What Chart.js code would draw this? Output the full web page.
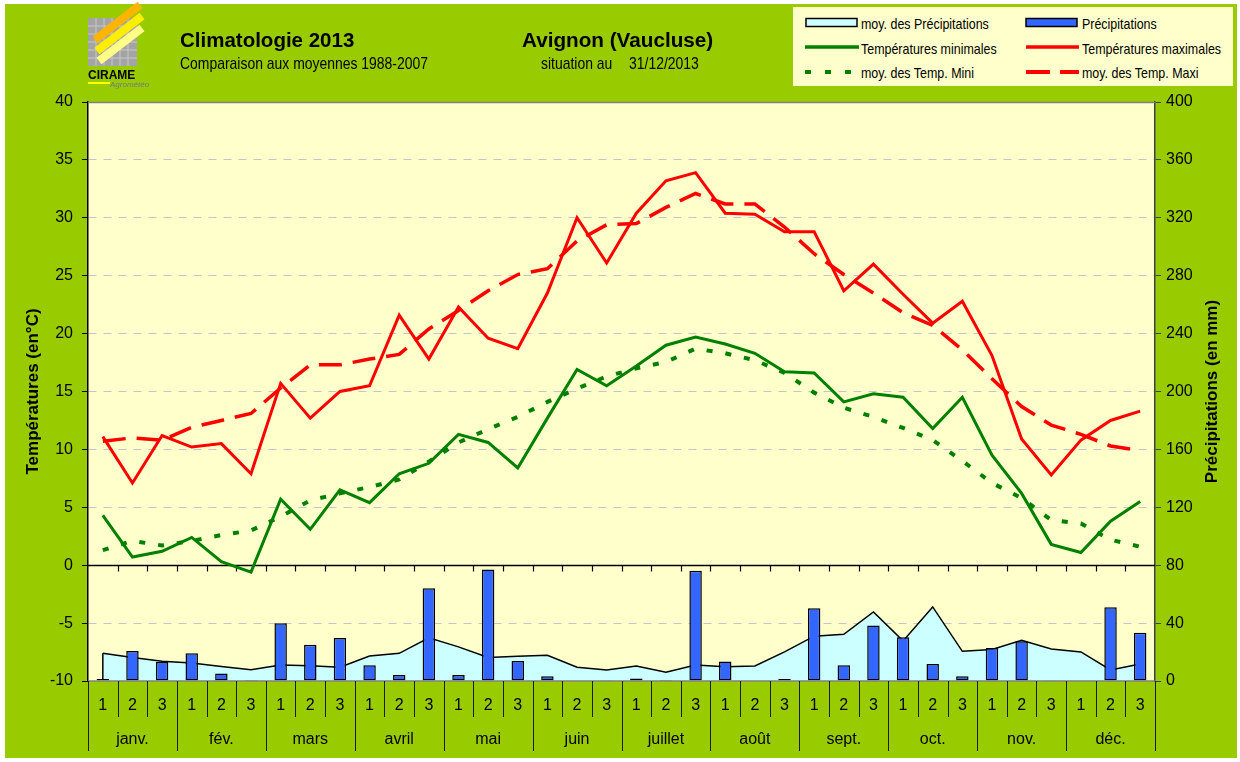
<!DOCTYPE html>
<html>
<head>
<meta charset="utf-8">
<script src="https://cdn.jsdelivr.net/npm/chart.js@4.4.1/dist/chart.umd.min.js"></script>
<style>
  body { margin: 0; background: #fff; font-family: 'Liberation Sans', Arial, sans-serif; }
  #bg { position: absolute; left: 5px; top: 4px; width: 1232px; height: 754px; background: #99CC00; }
  #c { position: absolute; left: 0; top: 0; }
  .t { position: absolute; white-space: nowrap; line-height: 1; color: #000; }
  .narrow { transform: scaleX(0.82); transform-origin: 0 50%; }
  #legend { position: absolute; left: 793px; top: 7px; width: 440px; height: 79px; background: #FFFFCC; }
  .lg { position: absolute; font-size: 15px; line-height: 1; white-space: nowrap; transform: scaleX(0.83); transform-origin: 0 50%; }
  .sym { position: absolute; }
</style>
</head>
<body>
<div id="bg"></div>
<canvas id="c" width="1240" height="762"></canvas>

<svg style="position:absolute;left:84px;top:2px" width="82" height="90">
  <rect x="4" y="16" width="49" height="48" fill="#a4a4a4"/>
  <g stroke="#c8c8c8" stroke-width="1">
    <line x1="4" y1="24" x2="53" y2="24"/><line x1="4" y1="32" x2="53" y2="32"/>
    <line x1="4" y1="40" x2="53" y2="40"/><line x1="4" y1="48" x2="53" y2="48"/>
    <line x1="4" y1="56" x2="53" y2="56"/>
    <line x1="12" y1="16" x2="12" y2="64"/><line x1="20" y1="16" x2="20" y2="64"/>
    <line x1="28" y1="16" x2="28" y2="64"/><line x1="36" y1="16" x2="36" y2="64"/>
    <line x1="44" y1="16" x2="44" y2="64"/>
  </g>
  <line x1="11" y1="38" x2="56" y2="3" stroke="#ffb400" stroke-width="8"/>
  <line x1="13" y1="49" x2="58" y2="14" stroke="#ffee00" stroke-width="8"/>
  <line x1="15" y1="59" x2="58" y2="26" stroke="#ffff88" stroke-width="8"/>
  <text x="4" y="77" font-family="Liberation Sans, Arial" font-weight="bold" font-size="12" fill="#000">CIRAME</text>
  <line x1="4" y1="81" x2="26" y2="81" stroke="#ffff00" stroke-width="2"/>
  <text x="26" y="85" font-family="Liberation Sans, Arial" font-style="italic" font-size="8" fill="#777">Agrométéo</text>
</svg>

<div class="t" style="left:180px;top:30px;font-weight:bold;font-size:20.5px;">Climatologie 2013</div>
<div class="t narrow" style="left:180px;top:55px;font-size:17px;">Comparaison aux moyennes 1988-2007</div>
<div class="t" style="left:522px;top:30px;font-weight:bold;font-size:20.7px;">Avignon (Vaucluse)</div>
<div class="t narrow" style="left:541px;top:55px;font-size:17px;">situation au</div>
<div class="t narrow" style="left:629px;top:55px;font-size:17px;">31/12/2013</div>

<div id="legend"></div>
<div id="legend-items">
  <svg class="sym" style="left:805px;top:17px" width="54" height="12"><rect x="1" y="1.5" width="51" height="8" fill="#CCFFFF" stroke="#000" stroke-width="1.5"/></svg>
  <div class="lg" style="left:861px;top:16px;">moy. des Précipitations</div>
  <svg class="sym" style="left:1025px;top:17px" width="54" height="12"><rect x="1" y="1.5" width="51" height="8" fill="#3366FF" stroke="#000" stroke-width="1.5"/></svg>
  <div class="lg" style="left:1082px;top:16px;">Précipitations</div>

  <svg class="sym" style="left:805px;top:41px" width="56" height="12"><line x1="0" y1="6" x2="54" y2="6" stroke="#008000" stroke-width="3.5"/></svg>
  <div class="lg" style="left:861px;top:41px;">Températures minimales</div>
  <svg class="sym" style="left:1026px;top:41px" width="56" height="12"><line x1="0" y1="6" x2="53" y2="6" stroke="#FF0000" stroke-width="3.5"/></svg>
  <div class="lg" style="left:1082px;top:41px;">Températures maximales</div>

  <svg class="sym" style="left:805px;top:66px" width="56" height="12"><line x1="0" y1="6" x2="50" y2="6" stroke="#008000" stroke-width="4" stroke-dasharray="6 14"/></svg>
  <div class="lg" style="left:861px;top:65px;">moy. des Temp. Mini</div>
  <svg class="sym" style="left:1026px;top:66px" width="56" height="12"><line x1="0" y1="6" x2="53" y2="6" stroke="#FF0000" stroke-width="4" stroke-dasharray="24 10"/></svg>
  <div class="lg" style="left:1082px;top:65px;">moy. des Temp. Maxi</div>
</div>

<script>
// 36 décades : 3 par mois
const months = ['janv.', 'fév.', 'mars', 'avril', 'mai', 'juin', 'juillet', 'août', 'sept.', 'oct.', 'nov.', 'déc.'];
const decades = ['1', '2', '3'];

// températures (°C)
const tmax = [11.1, 7.1, 11.2, 10.2, 10.5, 7.9, 15.7, 12.7, 15.0, 15.5, 21.6, 17.8,
              22.3, 19.6, 18.7, 23.5, 30.0, 26.1, 30.4, 33.2, 33.9, 30.4, 30.3, 28.8,
              28.8, 23.7, 26.0, 23.4, 20.9, 22.8, 18.1, 10.9, 7.8, 10.8, 12.5, 13.3];
const tmin = [4.3, 0.7, 1.2, 2.4, 0.3, -0.6, 5.7, 3.1, 6.5, 5.4, 7.9, 8.8,
              11.3, 10.6, 8.4, 12.7, 16.9, 15.5, 17.2, 19.0, 19.7, 19.1, 18.3, 16.7,
              16.6, 14.1, 14.8, 14.5, 11.8, 14.5, 9.5, 6.2, 1.8, 1.1, 3.8, 5.5];
const tmaxMoy = [10.7, 11.0, 10.8, 11.9, 12.5, 13.1, 15.3, 17.3, 17.3, 17.8, 18.2, 20.4,
                 22.0, 23.7, 25.1, 25.6, 28.0, 29.4, 29.5, 30.9, 32.1, 31.2, 31.2, 29.2,
                 26.9, 25.1, 23.5, 21.8, 20.7, 18.6, 16.1, 13.7, 12.1, 11.3, 10.3, 9.9];
const tminMoy = [1.3, 2.1, 1.7, 2.1, 2.6, 3.0, 4.2, 5.6, 6.2, 6.75, 7.4, 8.95,
                 10.6, 11.75, 12.8, 14.1, 15.25, 16.3, 17.0, 17.55, 18.7, 18.3, 17.7, 16.6,
                 14.9, 13.6, 12.8, 11.85, 10.8, 9.0, 7.1, 5.8, 3.9, 3.6, 2.2, 1.6];

// précipitations (mm)
const precip = [1.4, 20.7, 13.1, 19.1, 5.1, 0.7, 39.9, 25.1, 29.7, 10.8, 4.2, 64.1,
                4.2, 77.0, 13.8, 3.2, 0, 0.5, 1.8, 0.7, 76.1, 13.4, 0, 1.4,
                50.3, 10.8, 38.3, 30.2, 11.8, 3.2, 22.8, 27.4, 0.5, 0, 51.0, 33.4];
const precipMoy = [19.1, 16.3, 13.6, 12.4, 10.0, 7.8, 11.1, 10.6, 9.5, 17.3, 19.1, 29.8,
                   23.6, 16.2, 17.1, 17.8, 9.5, 7.6, 10.3, 6.0, 11.1, 9.9, 10.4, 20.1,
                   31.0, 32.3, 47.7, 27.7, 51.2, 20.5, 21.7, 28.1, 22.1, 20.1, 7.6, 11.8];

const labels = months.flatMap(() => decades);
const FONT = "'Liberation Sans', Arial, sans-serif";

const decor = {
    id: 'decor',
    beforeDraw(chart) {
        const { ctx, chartArea: a } = chart;
        ctx.save();
        ctx.fillStyle = '#FFFFCC';
        ctx.fillRect(a.left, a.top, a.right - a.left, a.bottom - a.top);
        ctx.restore();
    },
    beforeDatasetsDraw(chart) {
        const { ctx, chartArea: a } = chart;
        const y0 = Math.round(chart.scales.y.getPixelForValue(0)) + 0.5;
        const step = (a.right - a.left) / labels.length;
        ctx.save();
        ctx.strokeStyle = '#000';
        ctx.lineWidth = 1.5;
        ctx.beginPath();
        ctx.moveTo(a.left, y0);
        ctx.lineTo(a.right, y0);
        ctx.stroke();
        ctx.lineWidth = 1.2;
        for (let k = 1; k < labels.length; k++) {
            const xb = Math.round(a.left + k * step) + 0.5;
            ctx.beginPath();
            ctx.moveTo(xb, y0);
            ctx.lineTo(xb, y0 + 6);
            ctx.stroke();
        }
        ctx.restore();
    },
    afterDatasetsDraw(chart) {
        // bord gauche de l'aire des moyennes de précipitations
        const { ctx } = chart;
        const xs = chart.scales.x, y2 = chart.scales.y2;
        ctx.save();
        ctx.strokeStyle = '#000';
        ctx.lineWidth = 1.5;
        ctx.beginPath();
        ctx.moveTo(xs.getPixelForValue(0), y2.getPixelForValue(precip[0]));
        ctx.lineTo(xs.getPixelForValue(0), y2.getPixelForValue(precipMoy[0]));
        ctx.stroke();
        ctx.restore();
    },
    afterDraw(chart) {
        const { ctx, chartArea: a } = chart;
        const xs = chart.scales.x;
        const step = (a.right - a.left) / labels.length;
        ctx.save();
        // bord haut / bas
        ctx.strokeStyle = '#808080';
        ctx.lineWidth = 1.5;
        ctx.beginPath();
        ctx.moveTo(a.left, a.top + 0.5);
        ctx.lineTo(a.right, a.top + 0.5);
        ctx.moveTo(a.left, a.bottom);
        ctx.lineTo(a.right, a.bottom);
        ctx.stroke();

        // séparateurs décades / mois
        ctx.strokeStyle = '#1a1a1a';
        ctx.lineWidth = 1;
        for (let k = 0; k <= labels.length; k++) {
            const xb = Math.round(a.left + k * step) + 0.5;
            ctx.beginPath();
            ctx.moveTo(xb, a.bottom);
            ctx.lineTo(xb, k % 3 === 0 ? a.bottom + 70 : a.bottom + 36);
            ctx.stroke();
        }
        ctx.fillStyle = '#000';
        ctx.font = '16px ' + FONT;
        ctx.textAlign = 'center';
        ctx.textBaseline = 'middle';
        labels.forEach((lab, i) => {
            ctx.fillText(lab, xs.getPixelForValue(i), a.bottom + 25);
        });
        months.forEach((m, j) => {
            const xm = (xs.getPixelForValue(j * 3) + xs.getPixelForValue(j * 3 + 2)) / 2;
            ctx.fillText(m, xm, a.bottom + 59);
        });

        // titres des axes
        ctx.font = 'bold 17px ' + FONT;
        const yc = (a.top + a.bottom) / 2;
        ctx.translate(33, yc);
        ctx.rotate(-Math.PI / 2);
        ctx.fillText('Températures (en°C)', 0, 0);
        ctx.rotate(Math.PI / 2);
        ctx.translate(1212 - 33, 0);
        ctx.rotate(-Math.PI / 2);
        ctx.fillText('Précipitations (en mm)', 0, 0);
        ctx.restore();
    }
};

const ctx = document.getElementById('c').getContext('2d');
new Chart(ctx, {
    type: 'bar',
    data: {
        labels: labels,
        datasets: [
            {
                type: 'line',
                label: 'Températures maximales',
                data: tmax,
                yAxisID: 'y',
                borderColor: '#FF0000',
                borderWidth: 3,
                pointRadius: 0,
                tension: 0,
                order: 1
            },
            {
                type: 'line',
                label: 'Températures minimales',
                data: tmin,
                yAxisID: 'y',
                borderColor: '#008000',
                borderWidth: 3,
                pointRadius: 0,
                tension: 0,
                order: 2
            },
            {
                type: 'line',
                label: 'moy. des Temp. Maxi',
                data: tmaxMoy,
                yAxisID: 'y',
                borderColor: '#FF0000',
                borderWidth: 3.5,
                borderDash: [23, 11],
                pointRadius: 0,
                tension: 0,
                order: 3
            },
            {
                type: 'line',
                label: 'moy. des Temp. Mini',
                data: tminMoy,
                yAxisID: 'y',
                borderColor: '#008000',
                borderWidth: 4,
                borderDash: [6, 13],
                pointRadius: 0,
                tension: 0,
                order: 4
            },
            {
                type: 'bar',
                label: 'Précipitations',
                data: precip,
                yAxisID: 'y2',
                backgroundColor: '#3366FF',
                borderColor: '#000',
                borderWidth: 1.5,
                borderSkipped: false,
                barPercentage: 0.42,
                categoryPercentage: 1,
                order: 5
            },
            {
                type: 'line',
                label: 'moy. des Précipitations',
                data: precipMoy,
                yAxisID: 'y2',
                fill: 'origin',
                backgroundColor: '#CCFFFF',
                borderColor: '#000',
                borderWidth: 1.5,
                pointRadius: 0,
                tension: 0,
                order: 6
            }
        ]
    },
    options: {
        responsive: false,
        animation: false,
        layout: { padding: { left: 0, right: 0, top: 102, bottom: 81 } },
        plugins: {
            legend: { display: false },
            tooltip: { enabled: false }
        },
        scales: {
            x: {
                type: 'category',
                display: false,
                offset: true
            },
            y: {
                position: 'left',
                min: -10,
                max: 40,
                ticks: {
                    stepSize: 5,
                    color: '#000',
                    padding: 9,
                    font: { family: FONT, size: 16 }
                },
                grid: {
                    color: c => [40, 0, -10].includes(c.tick.value) ? 'rgba(0,0,0,0)' : '#C4C4CC',
                    tickColor: '#000',
                    tickLength: 6,
                    lineWidth: 1
                },
                border: { display: true, color: '#000', width: 1.5, dash: [8, 7] },
                afterFit: s => { s.width = 88; }
            },
            y2: {
                position: 'right',
                min: 0,
                max: 400,
                ticks: {
                    stepSize: 40,
                    color: '#000',
                    padding: 5,
                    font: { family: FONT, size: 16 }
                },
                grid: {
                    drawOnChartArea: false,
                    tickColor: '#404040',
                    tickLength: 6
                },
                border: { display: true, color: '#404040', width: 1.5 },
                afterFit: s => { s.width = 85; }
            }
        }
    },
    plugins: [decor]
});
</script>
</body>
</html>
